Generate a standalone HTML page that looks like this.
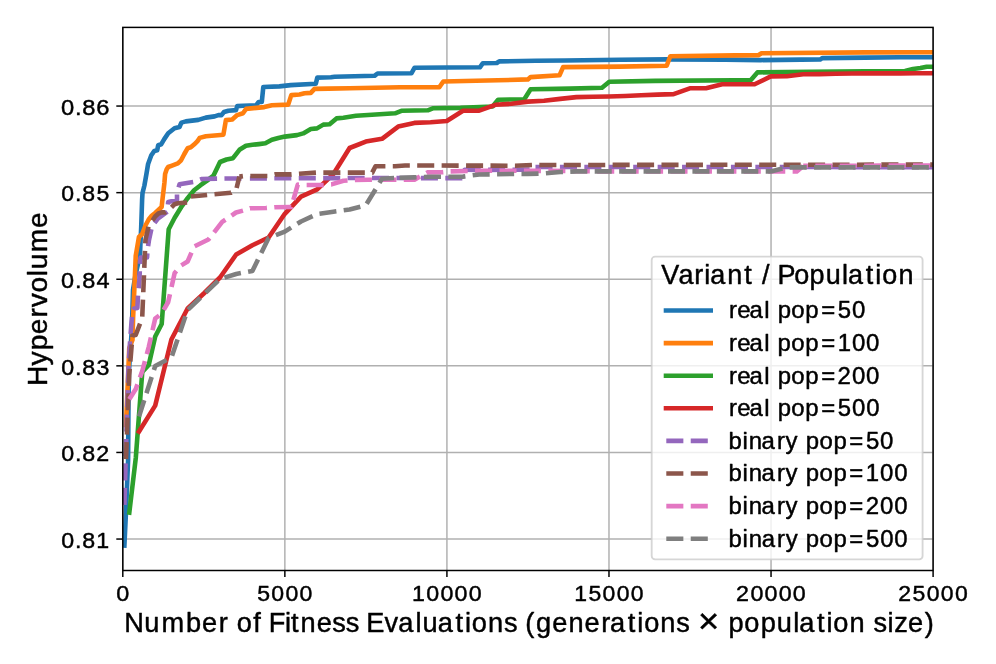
<!DOCTYPE html>
<html lang="en"><head><meta charset="utf-8"><title>Hypervolume vs Fitness Evaluations</title>
<style>html,body{margin:0;padding:0;background:#fff}body{width:996px;height:664px;overflow:hidden;font-family:"Liberation Sans",sans-serif}svg{display:block;will-change:transform}text{font-family:"Liberation Sans",sans-serif;fill:#000;stroke:#000;stroke-width:0.45px;stroke-linejoin:round}</style>
</head><body>
<svg width="996" height="664" viewBox="0 0 996 664">
<rect x="0" y="0" width="996" height="664" fill="#ffffff"/>
<defs><clipPath id="ax"><rect x="122.8" y="27.4" width="810.3000000000001" height="543.1"/></clipPath></defs>
<g stroke="#b0b0b0" stroke-width="1.48" fill="none">
<line x1="122.80" y1="27.4" x2="122.80" y2="570.5"/>
<line x1="284.86" y1="27.4" x2="284.86" y2="570.5"/>
<line x1="446.92" y1="27.4" x2="446.92" y2="570.5"/>
<line x1="608.98" y1="27.4" x2="608.98" y2="570.5"/>
<line x1="771.04" y1="27.4" x2="771.04" y2="570.5"/>
<line x1="933.10" y1="27.4" x2="933.10" y2="570.5"/>
<line x1="122.8" y1="539.05" x2="933.1" y2="539.05"/>
<line x1="122.8" y1="452.45" x2="933.1" y2="452.45"/>
<line x1="122.8" y1="365.85" x2="933.1" y2="365.85"/>
<line x1="122.8" y1="279.25" x2="933.1" y2="279.25"/>
<line x1="122.8" y1="192.65" x2="933.1" y2="192.65"/>
<line x1="122.8" y1="106.05" x2="933.1" y2="106.05"/>
</g>
<g clip-path="url(#ax)" fill="none" stroke-linejoin="round">
<path d="M124.40,545.50 L126.00,512.00 L126.90,490.00 L128.10,460.00 L128.30,432.00 L128.50,400.00 L129.00,370.00 L131.80,330.00 L132.20,318.00 L133.00,290.00 L135.50,275.00 L138.50,262.00 L139.80,259.60 L140.30,247.00 L141.20,227.10 L142.10,200.00 L142.50,193.10 L144.40,185.50 L146.60,173.00 L148.10,164.00 L151.30,155.30 L154.40,150.90 L157.20,150.20 L158.20,145.20 L161.30,144.20 L164.40,138.90 L168.20,133.30 L174.50,128.30 L179.50,127.00 L181.40,122.60 L185.80,121.40 L198.30,119.90 L205.80,117.60 L214.60,116.40 L218.40,115.10 L221.50,115.10 L224.00,112.00 L228.40,110.70 L236.00,110.10 L237.20,106.10 L243.00,105.80 L256.20,105.20 L258.70,102.00 L261.80,102.00 L263.30,87.00 L279.40,86.40 L290.70,85.10 L315.80,83.80 L317.30,77.60 L330.90,77.30 L334.60,76.70 L374.50,75.80 L377.50,73.50 L411.40,73.30 L414.60,67.70 L479.90,67.30 L482.90,63.20 L496.80,63.00 L499.20,61.40 L535.70,60.80 L565.00,60.50 L620.00,59.70 L667.80,59.40 L725.50,59.60 L760.60,60.10 L820.20,59.40 L822.50,58.10 L865.00,57.60 L900.00,57.20 L934.00,57.20" stroke="#1f77b4" stroke-width="4.6" stroke-linecap="square"/>
<path d="M126.00,425.00 L129.24,348.00 L132.48,340.00 L133.10,317.60 L134.40,287.80 L135.72,256.00 L138.96,237.00 L142.20,234.00 L145.44,225.50 L148.68,219.50 L151.92,215.50 L155.16,213.00 L158.40,210.00 L161.64,207.00 L162.40,200.00 L164.40,183.00 L165.10,174.00 L166.60,169.50 L168.12,167.00 L171.36,165.80 L174.60,164.60 L177.84,163.40 L181.08,160.30 L184.32,154.00 L187.56,148.30 L190.80,147.30 L194.04,144.60 L197.28,141.40 L199.60,137.90 L205.90,136.20 L223.40,134.70 L225.90,120.10 L232.20,119.50 L237.20,115.10 L243.00,113.30 L246.10,108.90 L264.30,107.10 L271.90,105.20 L288.20,104.60 L291.30,95.10 L299.50,94.50 L304.50,93.30 L310.80,92.90 L314.50,88.90 L328.30,88.60 L349.70,88.30 L400.00,87.30 L439.30,87.30 L443.30,81.50 L465.00,81.00 L498.00,80.30 L527.90,79.40 L530.60,77.10 L559.50,75.30 L563.10,67.10 L620.00,66.60 L666.70,65.70 L670.30,56.30 L735.00,55.40 L758.30,55.30 L761.50,53.30 L865.00,52.40 L934.00,52.30" stroke="#ff7f0e" stroke-width="4.6" stroke-linecap="square"/>
<path d="M129.30,512.60 L135.78,458.00 L142.26,372.00 L148.74,365.00 L155.22,336.50 L161.70,324.00 L168.70,229.20 L174.66,217.80 L181.14,207.20 L187.62,198.20 L194.10,190.20 L200.58,185.20 L207.06,180.60 L213.54,175.50 L220.02,162.00 L226.50,159.50 L232.98,158.20 L239.46,149.80 L245.94,145.80 L252.42,144.80 L258.90,144.10 L265.38,143.30 L271.86,139.80 L278.34,138.00 L284.82,136.60 L297.00,135.10 L303.20,133.40 L310.80,129.00 L317.00,128.40 L323.30,124.60 L329.60,124.30 L336.50,118.40 L343.40,117.70 L356.00,115.80 L368.00,115.00 L395.10,113.30 L401.40,110.80 L427.80,110.30 L432.80,108.30 L460.40,107.90 L480.00,107.00 L492.60,106.50 L498.10,99.70 L524.30,99.30 L530.60,89.30 L570.00,88.60 L602.00,87.80 L609.30,81.80 L655.00,80.90 L735.00,80.20 L750.90,80.00 L757.40,72.40 L810.00,71.80 L865.00,71.20 L905.00,71.00 L913.00,69.00 L920.40,68.00 L926.70,66.70 L934.00,66.70" stroke="#2ca02c" stroke-width="4.6" stroke-linecap="square"/>
<path d="M139.00,431.50 L155.20,405.60 L171.40,339.50 L187.60,308.50 L203.80,293.50 L220.00,277.50 L236.20,254.50 L252.40,245.30 L268.60,237.50 L284.80,213.80 L301.00,196.70 L317.20,189.30 L333.40,174.00 L349.60,148.00 L365.80,141.60 L382.00,138.80 L398.20,126.60 L414.40,122.90 L430.60,122.20 L446.80,121.00 L463.00,110.80 L479.20,110.60 L495.40,104.80 L511.60,103.80 L527.80,101.60 L544.00,100.70 L560.20,98.90 L576.40,97.10 L592.60,96.80 L608.80,96.50 L625.00,96.00 L641.20,95.20 L657.40,94.60 L673.60,94.10 L689.80,88.30 L706.00,88.30 L722.20,84.30 L738.40,84.30 L754.60,84.30 L770.80,76.40 L787.00,76.30 L803.20,74.30 L819.40,74.10 L835.60,73.80 L851.80,73.50 L868.00,73.40 L884.20,73.40 L900.40,73.40 L916.60,73.30 L932.80,73.30" stroke="#d62728" stroke-width="4.6" stroke-linecap="square"/>
<path d="M124.40,504.90 L125.40,470.00 L126.50,430.00 L128.50,367.00 L129.90,344.00 L131.30,325.00 L132.00,317.00 L134.10,308.60 L137.40,308.00 L138.00,295.00 L139.40,280.00 L140.30,260.00 L140.60,257.50 L147.10,257.50 L147.50,250.00 L148.90,240.60 L152.00,226.20 L157.50,219.00 L167.40,211.70 L168.20,201.90 L177.00,200.00 L177.00,193.00 L179.50,184.30 L194.60,181.80 L202.00,179.00 L217.00,178.60 L243.00,178.47" stroke="#9467bd" stroke-width="4.6" stroke-dasharray="17.06 7.37" stroke-dashoffset="0.00" stroke-linecap="butt"/>
<path d="M243.00,178.47 L300.00,178.20 L368.00,178.00 L462.98,178.20" stroke="#9467bd" stroke-width="4.6" stroke-dasharray="17.06 7.37" stroke-dashoffset="17.55" stroke-linecap="butt"/>
<path d="M462.98,178.20 L464.60,169.70 L489.00,169.90 L530.40,169.60 L532.02,167.00 L934.00,167.10" stroke="#9467bd" stroke-width="4.6" stroke-dasharray="17.06 7.37" stroke-dashoffset="16.74" stroke-linecap="butt"/>
<path d="M126.00,459.10 L129.24,375.00 L132.48,335.50 L135.72,335.00 L138.96,326.50 L142.20,318.00 L145.44,240.00 L148.68,226.00 L151.92,221.50 L155.16,216.50 L158.40,213.50 L161.64,212.30 L164.88,212.40 L168.12,210.50 L171.36,207.40 L174.60,204.20 L177.84,203.20 L187.56,202.40 L190.80,196.50 L207.00,195.00" stroke="#8c564b" stroke-width="4.6" stroke-dasharray="17.06 7.37" stroke-dashoffset="0.00" stroke-linecap="butt"/>
<path d="M207.00,195.00 L231.00,192.80 L236.16,189.80 L239.40,176.60" stroke="#8c564b" stroke-width="4.6" stroke-dasharray="17.06 7.37" stroke-dashoffset="16.90" stroke-linecap="butt"/>
<path d="M239.40,176.60 L243.00,176.10 L268.00,176.00 L275.00,174.40 L291.00,174.40 L299.50,173.70 L316.00,172.60 L372.24,172.60 L375.48,166.30 L395.00,166.20 L405.00,165.50 L515.00,165.70 L532.00,165.00 L934.00,164.60" stroke="#8c564b" stroke-width="4.6" stroke-dasharray="17.06 7.37" stroke-dashoffset="13.50" stroke-linecap="butt"/>
<path d="M129.30,399.30 L135.78,389.00 L142.26,371.00 L148.74,347.00 L155.22,318.50 L161.70,313.50 L168.18,302.00 L174.66,273.00 L181.14,265.50 L187.62,261.50 L194.10,246.50 L208.40,239.50 L213.40,233.20 L222.20,221.90 L229.70,216.90 L236.00,212.50 L243.00,210.60" stroke="#e377c2" stroke-width="4.6" stroke-dasharray="17.06 7.37" stroke-dashoffset="0.00" stroke-linecap="butt"/>
<path d="M243.00,210.60 L250.00,208.30 L266.00,208.00 L274.40,207.20 L291.30,207.00 L297.78,184.60 L304.26,185.00" stroke="#e377c2" stroke-width="4.6" stroke-dasharray="17.06 7.37" stroke-dashoffset="17.17" stroke-linecap="butt"/>
<path d="M304.26,185.00 L323.30,185.00 L331.50,184.40 L343.40,180.70 L354.70,180.00 L368.00,179.80 L414.42,179.80 L420.90,176.00 L427.38,172.40 L442.20,172.20 L450.00,171.40 L480.00,170.70 L550.00,170.90 L600.00,171.40 L796.74,171.40 L803.22,165.90" stroke="#e377c2" stroke-width="4.6" stroke-dasharray="17.06 7.37" stroke-dashoffset="22.04" stroke-linecap="butt"/>
<path d="M803.22,165.90 L934.00,165.50" stroke="#e377c2" stroke-width="4.6" stroke-dasharray="17.06 7.37" stroke-dashoffset="12.35" stroke-linecap="butt"/>
<path d="M139.00,416.50 L155.20,366.00 L171.40,357.50 L187.60,310.00 L203.80,294.50 L220.00,279.00 L236.20,274.00 L252.40,270.90 L268.60,238.00 L284.80,231.60 L301.00,221.50 L317.20,214.00 L333.40,211.70 L349.60,209.50 L365.80,205.20 L382.00,178.70 L398.20,177.80" stroke="#7f7f7f" stroke-width="4.6" stroke-dasharray="17.06 7.37" stroke-dashoffset="0.00" stroke-linecap="butt"/>
<path d="M398.20,177.80 L414.40,177.40 L430.60,176.80 L446.80,176.80 L463.00,176.60 L479.20,174.50 L495.40,174.30 L511.60,174.00 L527.80,173.90 L544.00,173.50 L560.20,172.00 L576.40,171.40 L592.60,171.40 L608.80,171.40 L625.00,171.40 L641.20,171.40 L657.40,171.40 L673.60,171.40 L689.80,171.40 L706.00,171.40 L722.20,171.40 L738.40,171.40 L754.60,171.40 L770.80,171.40 L787.00,167.40 L803.20,167.40 L819.40,167.40 L835.60,167.40 L851.80,167.40 L868.00,167.40 L884.20,167.40 L900.40,167.40 L916.60,167.40 L932.80,167.40" stroke="#7f7f7f" stroke-width="4.6" stroke-dasharray="17.06 7.37" stroke-dashoffset="23.13" stroke-linecap="butt"/>
</g>
<rect x="122.8" y="27.4" width="810.3000000000001" height="543.1" fill="none" stroke="#000" stroke-width="1.48"/>
<g stroke="#000" stroke-width="1.48">
<line x1="122.80" y1="570.5" x2="122.80" y2="577.0"/>
<line x1="284.86" y1="570.5" x2="284.86" y2="577.0"/>
<line x1="446.92" y1="570.5" x2="446.92" y2="577.0"/>
<line x1="608.98" y1="570.5" x2="608.98" y2="577.0"/>
<line x1="771.04" y1="570.5" x2="771.04" y2="577.0"/>
<line x1="933.10" y1="570.5" x2="933.10" y2="577.0"/>
<line x1="122.8" y1="539.05" x2="116.3" y2="539.05"/>
<line x1="122.8" y1="452.45" x2="116.3" y2="452.45"/>
<line x1="122.8" y1="365.85" x2="116.3" y2="365.85"/>
<line x1="122.8" y1="279.25" x2="116.3" y2="279.25"/>
<line x1="122.8" y1="192.65" x2="116.3" y2="192.65"/>
<line x1="122.8" y1="106.05" x2="116.3" y2="106.05"/>
</g>
<text transform="scale(1.0285,1)" x="113.05" y="600.90" font-size="22.75">0</text>
<text transform="scale(1.0143,1)" x="253.52 267.53 281.45 295.38" y="600.90" font-size="22.75">5000</text>
<text transform="scale(1.0204,1)" x="403.82 417.79 431.63 445.47 459.32" y="600.90" font-size="22.75">10000</text>
<text transform="scale(1.0089,1)" x="569.17 583.20 597.29 611.29 625.29" y="600.90" font-size="22.75">15000</text>
<text transform="scale(1.0224,1)" x="719.89 733.97 747.78 761.60 775.41" y="600.90" font-size="22.75">20000</text>
<text transform="scale(1.0110,1)" x="888.41 902.55 916.61 930.58 944.56" y="600.90" font-size="22.75">25000</text>
<text transform="scale(1.0191,1)" x="60.02 73.58 80.80 94.54" y="547.85" font-size="22.75">0.81</text>
<text transform="scale(1.0223,1)" x="59.81 73.34 80.53 94.09" y="461.25" font-size="22.75">0.82</text>
<text transform="scale(1.0191,1)" x="60.02 73.57 80.80 94.71" y="374.65" font-size="22.75">0.83</text>
<text transform="scale(1.0320,1)" x="59.18 72.61 79.71 93.42" y="288.05" font-size="22.75">0.84</text>
<text transform="scale(1.0140,1)" x="60.35 73.96 81.24 95.08" y="201.45" font-size="22.75">0.85</text>
<text transform="scale(1.0426,1)" x="58.52 71.84 78.83 92.37" y="114.85" font-size="22.75">0.86</text>
<text transform="scale(1.0123,1)" x="122.69 142.55 159.46 183.82 199.67 216.21 225.46 233.89 250.28 258.19 265.38 281.58 287.44 296.91 312.85 328.29 341.60 354.75 361.85 379.81 393.48 410.35 417.43 432.41 449.90 459.29 466.11 482.09 497.76 510.91 518.81 529.45 545.62 561.58 577.51 594.05 602.67 620.16 629.56 636.37 652.35 668.02 681.17 689.55 710.69 719.59 735.33 751.42 767.42 783.62 789.49 806.99 816.38 823.19 839.18 854.69 862.96 876.70 883.28 897.03 913.51" y="631.60" font-size="26.88">Number of Fitness Evaluations (generations <tspan font-size="35.76" dy="1.6">×</tspan><tspan dy="-1.6"> population size)</tspan></text>
<text transform="translate(47.3,385.62) rotate(-90) scale(1.0446,1)" x="-0.43 19.19 33.77 49.14 65.24 74.94 89.08 104.63 111.35 127.63 150.99" y="0" font-size="26.88">Hypervolume</text>
<rect x="651.7" y="256.7" width="270.9" height="302.7" rx="3.4" ry="3.4" fill="#ffffff" fill-opacity="0.8" stroke="#cccccc" stroke-opacity="0.8" stroke-width="1.84"/>
<text transform="scale(1.0038,1)" x="658.70 675.95 691.60 701.51 707.47 724.56 741.40 750.24 759.04 767.11 774.51 791.20 806.52 822.64 838.95 844.91 862.52 871.98 878.89 895.01" y="284.40" font-size="26.88">Variant / Population</text>
<line x1="666.0" y1="310.50" x2="710.7" y2="310.50" stroke="#1f77b4" stroke-width="4.6" stroke-linecap="square"/>
<text transform="scale(1.0380,1)" x="702.29 710.34 722.13 736.37 741.88 749.17 762.36 775.83 791.11 807.11 820.80" y="318.40" font-size="23.09">real pop=50</text>
<line x1="666.0" y1="343.10" x2="710.7" y2="343.10" stroke="#ff7f0e" stroke-width="4.6" stroke-linecap="square"/>
<text transform="scale(1.0374,1)" x="702.67 710.72 722.52 736.77 742.28 749.58 762.77 776.25 791.54 807.50 821.25 834.86" y="351.00" font-size="23.09">real pop=100</text>
<line x1="666.0" y1="375.70" x2="710.7" y2="375.70" stroke="#2ca02c" stroke-width="4.6" stroke-linecap="square"/>
<text transform="scale(1.0383,1)" x="702.08 710.13 721.92 736.16 741.67 748.95 762.14 775.61 790.89 806.71 820.57 834.17" y="383.60" font-size="23.09">real pop=200</text>
<line x1="666.0" y1="408.30" x2="710.7" y2="408.30" stroke="#d62728" stroke-width="4.6" stroke-linecap="square"/>
<text transform="scale(1.0355,1)" x="704.01 712.08 723.91 738.17 743.69 751.01 764.23 777.74 793.06 809.10 822.82 836.46" y="416.20" font-size="23.09">real pop=500</text>
<line x1="666.3" y1="440.90" x2="711.0" y2="440.90" stroke="#9467bd" stroke-width="4.6" stroke-dasharray="17.06 7.37"/>
<text transform="scale(1.0384,1)" x="701.57 715.08 720.99 733.43 748.17 756.56 768.68 775.97 789.15 802.62 817.89 833.88 847.57" y="448.80" font-size="23.09">binary pop=50</text>
<line x1="666.3" y1="473.50" x2="711.0" y2="473.50" stroke="#8c564b" stroke-width="4.6" stroke-dasharray="17.06 7.37"/>
<text transform="scale(1.0379,1)" x="701.91 715.42 721.34 733.79 748.53 756.93 769.05 776.34 789.53 803.01 818.29 834.24 847.98 861.59" y="481.40" font-size="23.09">binary pop=100</text>
<line x1="666.3" y1="506.10" x2="711.0" y2="506.10" stroke="#e377c2" stroke-width="4.6" stroke-dasharray="17.06 7.37"/>
<text transform="scale(1.0386,1)" x="701.42 714.93 720.84 733.28 748.02 756.41 768.52 775.80 788.98 802.45 817.72 833.54 847.40 861.00" y="514.00" font-size="23.09">binary pop=200</text>
<line x1="666.3" y1="538.70" x2="711.0" y2="538.70" stroke="#7f7f7f" stroke-width="4.6" stroke-dasharray="17.06 7.37"/>
<text transform="scale(1.0363,1)" x="703.03 716.57 722.50 734.97 749.73 758.15 770.28 777.59 790.80 804.29 819.60 835.63 849.34 862.97" y="546.60" font-size="23.09">binary pop=500</text>
</svg>
</body></html>
